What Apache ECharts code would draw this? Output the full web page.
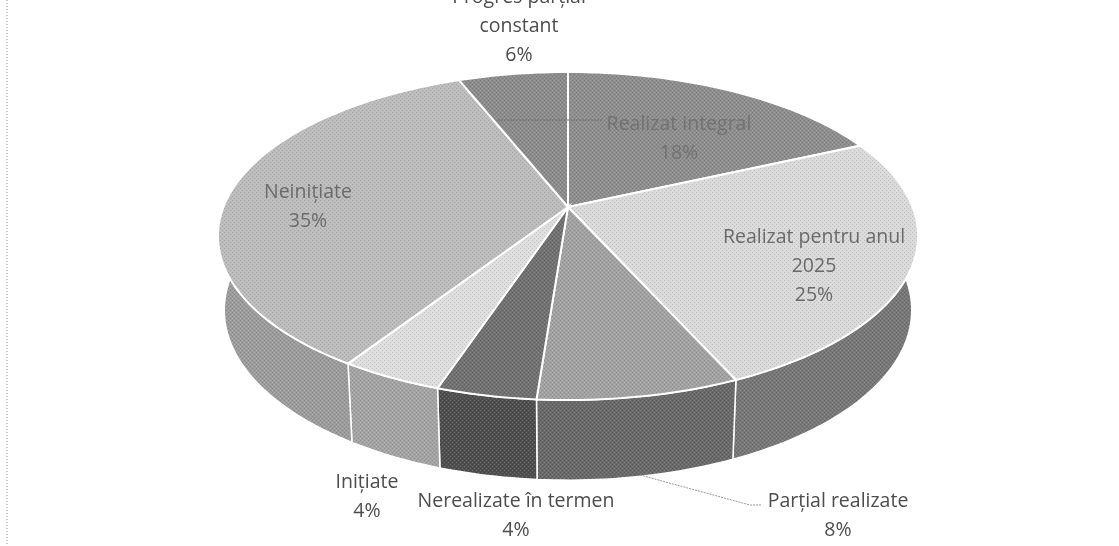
<!DOCTYPE html>
<html lang="ro">
<head>
<meta charset="UTF-8" />
<title>Stadiu realizare</title>
<script src="https://cdn.jsdelivr.net/npm/echarts@6/dist/echarts.min.js"></script>
<style>
    html, body { margin: 0; padding: 0; background: #fff; }
    #chart { width: 1119px; height: 546px; }
</style>
</head>
<body>
<div id="chart"></div>
<script>
    // values, clockwise from 12 o'clock; labels show them rounded
    const names = ['Realizat integral', 'Realizat pentru anul\n2025', 'Parțial realizate', 'Nerealizate în termen', 'Inițiate', 'Neinițiate', 'Progres parțial\nconstant'];
    const percents = [18.2, 25.1, 7.9, 3.9, 4.05, 34.85, 6];
    const topColors = ['#8e8e8e', '#dadada', '#a2a2a2', '#717171', '#dedede', '#bcbcbc', '#8c8c8c'];
    const sideColors = ['#6c6c6c', '#777777', '#696969', '#4f4f4f', '#a4a4a4', '#9c9c9c', '#6c6c6c'];
    // label centres in pixels, separate from the data
    const labelX = [679, 814, 838, 516, 367, 308, 519];
    const labelY = [139, 266, 516, 516, 497, 207, 26];
    const labelColors = ['#727272', '#6a6a6a', '#4d4d4d', '#4d4d4d', '#4d4d4d', '#6b6b6b', '#4d4d4d'];

    // perspective of the tilted disc
    const tilt = 0.177;
    const bottomScaleX = 0.982;
    const bottomScaleY = 1.037;
    const bottomDrop = 0.459;

    function project(pct, onBottom) {
        let a = pct / 100 * 2 * Math.PI;
        let u = Math.sin(a), v = Math.cos(a);
        let d = 1 + tilt * v;
        let x = u / d, y = v / d;
        if (onBottom) {
            x *= bottomScaleX;
            y = y * bottomScaleY - bottomDrop;
        }
        return [x, y];
    }

    function arc(from, to, onBottom) {
        let pts = [];
        let steps = Math.max(2, Math.ceil((to - from) * 3));
        for (let i = 0; i <= steps; i++) {
            pts.push(project(from + (to - from) * i / steps, onBottom));
        }
        return pts;
    }

    // scanned halftone look
    function halftone(color) {
        let c = document.createElement('canvas');
        c.width = 4;
        c.height = 4;
        let ctx = c.getContext('2d');
        ctx.fillStyle = color;
        ctx.fillRect(0, 0, 4, 4);
        ctx.fillStyle = 'rgba(0,0,0,0.13)';
        ctx.fillRect(0, 0, 1, 1);
        ctx.fillRect(2, 2, 1, 1);
        ctx.fillStyle = 'rgba(255,255,255,0.16)';
        ctx.fillRect(2, 0, 1, 1);
        ctx.fillRect(0, 2, 1, 1);
        return { image: c, repeat: 'repeat' };
    }

    let sliceData = [];
    let running = 0;
    percents.forEach((p, i) => {
        sliceData.push({ name: names[i], value: [running, p, i] });
        running += p;
    });

    function renderSide(params, api) {
        let from = api.value(0), to = from + api.value(1);
        let pts = arc(from, to, false).concat(arc(from, to, true).reverse());
        return {
            type: 'polygon',
            shape: { points: pts.map(p => api.coord(p)) },
            style: { fill: halftone(sideColors[api.value(2)]), stroke: '#fff', lineWidth: 1.5 }
        };
    }

    function renderTop(params, api) {
        let from = api.value(0), to = from + api.value(1);
        let pts = [[0, 0]].concat(arc(from, to, false));
        return {
            type: 'polygon',
            shape: { points: pts.map(p => api.coord(p)) },
            style: { fill: halftone(topColors[api.value(2)]), stroke: '#fff', lineWidth: 2 }
        };
    }

    let graphics = [
        { type: 'line', silent: true, z: 5, shape: { x1: 7, y1: 0, x2: 7, y2: 546 }, style: { stroke: '#999', lineWidth: 1, lineDash: [1, 2] } },
        { type: 'line', silent: true, z: 5, shape: { x1: 498, y1: 120, x2: 602, y2: 120 }, style: { stroke: '#6f6f6f', lineWidth: 1, lineDash: [2, 1] } },
        { type: 'polyline', silent: true, z: 5, shape: { points: [[640, 475], [750, 505], [762, 505]] }, style: { stroke: '#999', lineWidth: 1, fill: 'none', lineDash: [2, 1] } }
    ];
    names.forEach((n, i) => {
        graphics.push({
            type: 'text',
            silent: true,
            z: 10,
            x: labelX[i],
            y: labelY[i],
            style: {
                text: n + '\n' + Math.round(percents[i]) + '%',
                x: 0,
                y: 0,
                align: 'center',
                verticalAlign: 'middle',
                fontFamily: 'Open Sans',
                fontSize: 19.5,
                lineHeight: 29,
                fill: labelColors[i]
            }
        });
    });

    let myChart = echarts.init(document.getElementById('chart'));
    myChart.setOption({
        animation: false,
        backgroundColor: '#fff',
        grid: { left: 216.6, top: 48.1, width: 702.8, height: 444.9 },
        xAxis: { type: 'value', min: -1.02, max: 1.02, show: false },
        yAxis: { type: 'value', min: -1.8, max: 1, show: false },
        series: [
            { type: 'custom', renderItem: renderSide, data: sliceData, clip: false, z: 1 },
            { type: 'custom', renderItem: renderTop, data: sliceData, clip: false, z: 2 }
        ],
        graphic: graphics
    });
</script>
</body>
</html>
